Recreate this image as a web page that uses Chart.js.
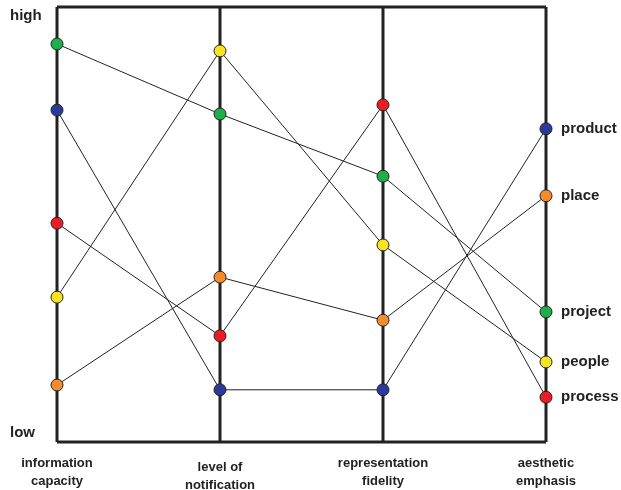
<!DOCTYPE html>
<html>
<head>
<meta charset="UTF-8">
<title>Parallel coordinates</title>
<style>
  html, body { margin: 0; padding: 0; background: #fff; }
  #wrap { width: 621px; height: 490px; position: relative; }
</style>
</head>
<body>
<div id="wrap"><canvas id="myChart" width="621" height="490"></canvas></div>
<script src="https://cdn.jsdelivr.net/npm/chart.js@4.4.0/dist/chart.umd.min.js"></script>
<script>
// axes (categories) and each series value on a 0 (low) .. 100 (high) scale
var axisNames = [['information', 'capacity'], ['level of', 'notification'], ['representation', 'fidelity'], ['aesthetic', 'emphasis']];
var seriesNames = ['product', 'place', 'project', 'people', 'process'];
var seriesColors = ['#2b3a9a', '#f58b2a', '#1fae4b', '#f6e41e', '#ec1c24'];
var product = [76.3, 12.0, 12.0, 72.0];
var place   = [13.1, 37.9, 28.0, 56.6];
var project = [91.5, 75.4, 61.1, 29.9];
var people  = [33.3, 89.9, 45.3, 18.4];
var process = [50.3, 24.4, 77.5, 10.3];
var seriesValues = [product, place, project, people, process];

var ink = '#222';
var smallFont = 'bold 13px "Liberation Sans", Arial, sans-serif';
var bigFont = 'bold 15px "Liberation Sans", Arial, sans-serif';

var frame = {
  id: 'frame',
  beforeDatasetsDraw: function(chart) {
    var ctx = chart.ctx, a = chart.chartArea, x = chart.scales.x;
    ctx.save();
    ctx.strokeStyle = ink;
    ctx.lineWidth = 3;
    ctx.beginPath();
    ctx.moveTo(a.left, a.top); ctx.lineTo(a.right, a.top);
    ctx.moveTo(a.left, a.bottom); ctx.lineTo(a.right, a.bottom);
    for (var i = 0; i < axisNames.length; i++) {
      var px = x.getPixelForValue(i);
      ctx.moveTo(px, a.top); ctx.lineTo(px, a.bottom);
    }
    ctx.stroke();
    ctx.restore();
  },
  afterDraw: function(chart) {
    var ctx = chart.ctx, a = chart.chartArea, x = chart.scales.x, y = chart.scales.y;
    ctx.save();
    ctx.fillStyle = ink;
    ctx.textBaseline = 'middle';
    ctx.textAlign = 'left';
    ctx.font = bigFont;
    ctx.fillText('high', 10, a.top + 9);
    ctx.fillText('low', 10, a.bottom - 9);
    var last = axisNames.length - 1;
    for (var s = 0; s < seriesNames.length; s++) {
      ctx.fillText(seriesNames[s], x.getPixelForValue(last) + 15, y.getPixelForValue(seriesValues[s][last]));
    }
    ctx.font = smallFont;
    ctx.textAlign = 'center';
    for (var i = 0; i < axisNames.length; i++) {
      var px = x.getPixelForValue(i);
      var dy = (i === 1) ? 4 : 0;
      ctx.fillText(axisNames[i][0], px, a.bottom + 21 + dy);
      ctx.fillText(axisNames[i][1], px, a.bottom + 39 + dy);
    }
    ctx.restore();
  }
};

var datasets = seriesNames.map(function(name, s) {
  return {
    label: name,
    data: seriesValues[s],
    borderColor: ink,
    borderWidth: 1,
    pointBackgroundColor: seriesColors[s],
    pointBorderColor: ink,
    pointBorderWidth: 1,
    pointRadius: 6,
    tension: 0
  };
});

new Chart(document.getElementById('myChart').getContext('2d'), {
  type: 'line',
  data: { labels: axisNames.map(function(n) { return n.join(' '); }), datasets: datasets },
  options: {
    responsive: false,
    animation: false,
    layout: { padding: { left: 57, right: 75, top: 7, bottom: 48 } },
    plugins: { legend: { display: false }, tooltip: { enabled: false } },
    scales: {
      x: { type: 'category', offset: false, display: false },
      y: { min: 0, max: 100, display: false }
    }
  },
  plugins: [frame]
});
</script>
</body>
</html>
